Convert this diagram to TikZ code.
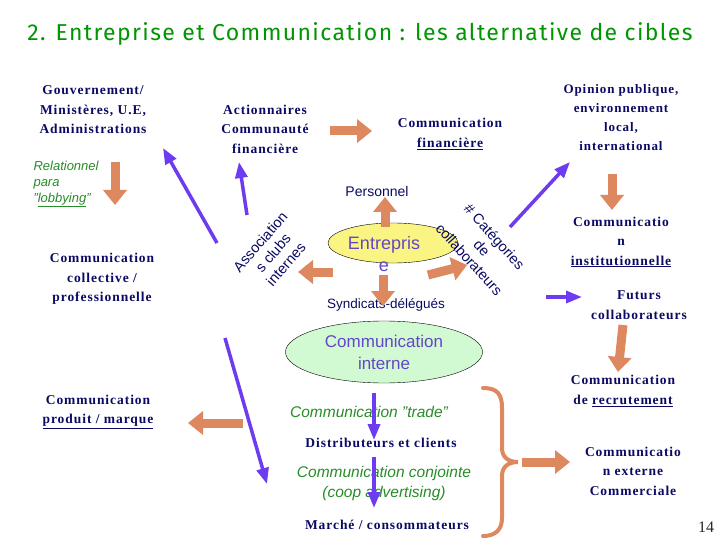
\documentclass[tikz,border=0pt]{standalone}
\usepackage{fontspec}
\setmainfont{Liberation Serif}
\setsansfont{Liberation Sans}
\newfontfamily\titlefont[LetterSpace=6]{Fira Sans}
\newfontfamily\targetfont[LetterSpace=7]{Liberation Serif}
\usetikzlibrary{positioning,arrows.meta,shapes.geometric}
\definecolor{navy}{RGB}{10,10,100}
\definecolor{titlegreen}{RGB}{0,150,0}
\definecolor{leafgreen}{RGB}{40,140,40}
\definecolor{brick}{RGB}{222,136,96}
\definecolor{purp}{RGB}{110,60,240}
\definecolor{purptext}{RGB}{100,70,200}
\definecolor{sunny}{RGB}{250,245,130}
\definecolor{mint}{RGB}{210,250,210}
\tikzset{target/.style={font=\targetfont\bfseries\fontsize{13.5}{19.5}\selectfont, text=navy, align=center},
  soft/.style={font=\sffamily\itshape\fontsize{15.5}{20}\selectfont, text=leafgreen, align=center},
  staff/.style={font=\sffamily\fontsize{14}{17}\selectfont, text=navy, align=center},
  bigarrow/.style={color=brick, line width=9pt, -{Triangle[length=15pt,width=23pt]}},
  slimarrow/.style={color=purp, line width=3.5pt, -{Triangle[length=16pt,width=12pt]}}}

\begin{document}
\begin{tikzpicture}[x=1pt,y=-1pt]
	\path[fill=white] (0,0) rectangle (720,540);
	\useasboundingbox (0,0) rectangle (720,540);

	\node[font=\titlefont\fontsize{23}{26}\selectfont, text=titlegreen] (title) at (360,34) {2. Entreprise et Communication : les alternative de cibles};

	% cibles autour
	\node[target] (gouv) at (93,110) {Gouvernement/\\Ministères, U.E,\\Administrations};
	\node[target] (collect) at (102,279) {Communication\\collective /\\professionnelle};
	\node[target] (action) at (265,129) {Actionnaires\\Communauté\\financière};
	\node[target] (finance) at (450,134) {Communication\\\underline{financière}};
	\node[target, font=\targetfont\bfseries\fontsize{13}{19}\selectfont] (opinion) at (621,118) {Opinion publique,\\environnement\\local,\\international};
	\node[target] (institut) at (621,242) {Communicatio\\n\\\underline{institutionnelle}};
	\node[target] (futurs) at (639,305) {Futurs\\collaborateurs};
	\node[target] (recrut) at (623,391) {Communication\\de \underline{recrutement}};
	\node[target] (externe) at (633,471) {Communicatio\\n externe\\Commerciale};
	\node[target] (produit) at (98,412) {Communication\\\underline{produit / marque}};
	\node[target] (distrib) at (381,443) {Distributeurs et clients};
	\node[target] (marche) at (387,525) {Marché / consommateurs};
	\node[font=\fontsize{16}{16}\selectfont, text=black!85] (page) at (706,527) {14};

	% commentaires en vert
	\node[soft, font=\sffamily\itshape\fontsize{13}{16}\selectfont, align=left, anchor=west] (lobby) at (30,184) {Relationnel\\para\\"\underline{lobbying}"};
	\node[soft] (trade) at (369,412) {Communication "trade"};
	\node[soft] (conjointe) at (384,483) {Communication conjointe\\(coop advertising)};

	% entreprise au centre
	\node[draw, ellipse, fill=sunny, minimum width=130pt, minimum height=40pt] (ent) at (393,243) {};
	\node[font=\sffamily\fontsize{18}{22}\selectfont, text=purptext, align=center] (entname) at (384,254) {Entrepris\\e};
	\node[staff] (perso) at (377,191) {Personnel};
	\node[staff, font=\sffamily\fontsize{13.5}{16}\selectfont] (syndic) at (386,305) {Syndicats-délégués};
	\node[staff, font=\sffamily\fontsize{14.5}{17}\selectfont, rotate=49] (assoc) at (273,253) {Association\\s clubs\\internes};
	\node[staff, font=\sffamily\fontsize{14.5}{17}\selectfont, rotate=-48] (categ) at (482,248) {\# Catégories\\de\\collaborateurs};
	\node[draw, ellipse, fill=mint, minimum width=197pt, minimum height=62pt, font=\sffamily\fontsize{17}{22}\selectfont, text=purptext, align=center] (interne) at (384,352) {Communication\\interne};

	% bouts des fleches
	\coordinate (lobbyA) at (115,162);  \coordinate (lobbyB) at (115,205);
	\coordinate (actA) at (330,131);    \coordinate (actB) at (372,131);
	\coordinate (opinA) at (612,174);   \coordinate (opinB) at (612,210);
	\coordinate (futA) at (623,325);    \coordinate (futB) at (618,372);
	\coordinate (upA) at (385,227);     \coordinate (upB) at (385,197);
	\coordinate (leftA) at (333,272);   \coordinate (leftB) at (298,272);
	\coordinate (downA) at (383,275);   \coordinate (downB) at (383,306);
	\coordinate (rightA) at (428,275);  \coordinate (rightB) at (467,265);
	\coordinate (prodA) at (243,423);   \coordinate (prodB) at (188,423);
	\coordinate (braceTop) at (483,388); \coordinate (braceTip) at (518,462); \coordinate (braceBot) at (483,536);
	\coordinate (extA) at (522,462);    \coordinate (extB) at (570,462);
	\coordinate (gouvA) at (217,243);   \coordinate (gouvB) at (163,148);
	\coordinate (actuA) at (247,215);   \coordinate (actuB) at (239,162);
	\coordinate (opA) at (510,227);     \coordinate (opB) at (570,162);
	\coordinate (futurA) at (546,297);  \coordinate (futurB) at (582,297);
	\coordinate (longA) at (225,338);   \coordinate (longB) at (267,484);
	\coordinate (tradeA) at (374,393);  \coordinate (tradeB) at (374,440);
	\coordinate (coopA) at (374,457);   \coordinate (coopB) at (374,508);

	\path[bigarrow]
		(lobbyA) edge (lobbyB)
		(actA) edge (actB)
		(opinA) edge (opinB)
		(futA) edge (futB)
		(upA) edge (upB)
		(leftA) edge (leftB)
		(downA) edge (downB)
		(rightA) edge (rightB)
		(prodA) edge (prodB)
		(extA) edge (extB);

	% accolade
	\draw[brick, line width=4pt, line cap=round]
		(braceTop) .. controls (498,388) and (502,395) .. (502,408)
		-- (502,448) .. controls (502,457) and (508,462) .. (braceTip)
		.. controls (508,462) and (502,467) .. (502,476)
		-- (502,518) .. controls (502,530) and (495,536) .. (braceBot);

	\path[slimarrow]
		(gouvA) edge (gouvB)
		(actuA) edge (actuB)
		(opA) edge (opB)
		(futurA) edge (futurB)
		(longA) edge (longB)
		(tradeA) edge (tradeB)
		(coopA) edge (coopB);
\end{tikzpicture}
\end{document}
